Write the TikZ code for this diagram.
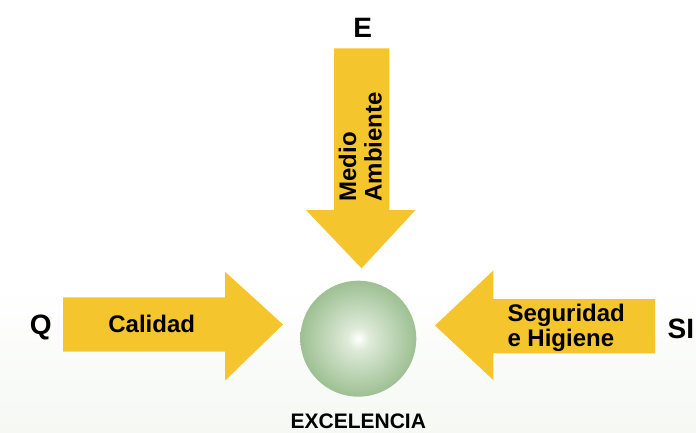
\documentclass[tikz,border=0pt]{standalone}
\usepackage{fontspec}
\setmainfont{Liberation Sans}
\definecolor{arrowyellow}{RGB}{245,197,45}
\definecolor{sphA}{RGB}{222,234,216}
\definecolor{sphB}{RGB}{160,194,150}
\definecolor{sphC}{RGB}{114,162,102}
\definecolor{bgbottom}{RGB}{245,248,243}
\pgfdeclareradialshading{sph}{\pgfpoint{0bp}{0bp}}{color(0bp)=(white); color(5bp)=(sphA); color(24bp)=(sphB); color(50bp)=(sphC)}
\tikzset{
  arrowfill/.style={fill=arrowyellow, draw=none},
  lbl/.style={inner sep=0pt, font=\bfseries\fontsize{24}{24}\selectfont},
  biglbl/.style={inner sep=0pt, font=\bfseries\fontsize{28}{28}\selectfont},
  exlbl/.style={inner sep=0pt, font=\bfseries\fontsize{21}{21}\selectfont}
}
\begin{document}
\begin{tikzpicture}[x=1pt,y=-1pt]
\useasboundingbox (0,0) rectangle (696,433);
\fill[white] (0,0) rectangle (696,285);
\fill[top color=white, bottom color=bgbottom] (0,285) rectangle (696,433);
% left arrow (Calidad)
\fill[arrowfill] (63,297.3) -- (225,297.3) -- (225,271.7) -- (283,324.5) -- (225,380.7) -- (225,351.7) -- (63,351.7) -- cycle;
% top arrow (Medio Ambiente)
\fill[arrowfill] (334,48.3) -- (389.3,48.3) -- (389.3,210) -- (415.5,210) -- (361.5,268.3) -- (306,210) -- (334,210) -- cycle;
% right arrow (Seguridad e Higiene)
\fill[arrowfill] (655,299) -- (493.3,299) -- (493.3,270.5) -- (435,325.5) -- (493.3,380) -- (493.3,353.3) -- (655,353.3) -- cycle;
% sphere
\node[circle, minimum size=116pt, inner sep=0pt, shading=sph] (ex) at (358.3,338.7) {};
% labels
\node[lbl, anchor=base] (cal) at (151.7,332.7) {Calidad};
\node[biglbl, anchor=base] (q) at (40.7,334) {Q};
\node[biglbl, anchor=base] (e) at (362.7,37.3) {E};
\node[biglbl, anchor=base west] (si) at (667.5,338.3) {SI};
\node[lbl, anchor=base west] (seg) at (507.3,321.7) {Seguridad};
\node[lbl, anchor=base west] (hig) at (507.3,346) {e Higiene};
\node[lbl, rotate=90, anchor=base west] (med) at (356,201.7) {Medio};
\node[lbl, rotate=90, anchor=base west] (amb) at (381.7,201.7) {Ambiente};
\node[exlbl, anchor=base] (exc) at (358.3,428) {EXCELENCIA};
\end{tikzpicture}
\end{document}
